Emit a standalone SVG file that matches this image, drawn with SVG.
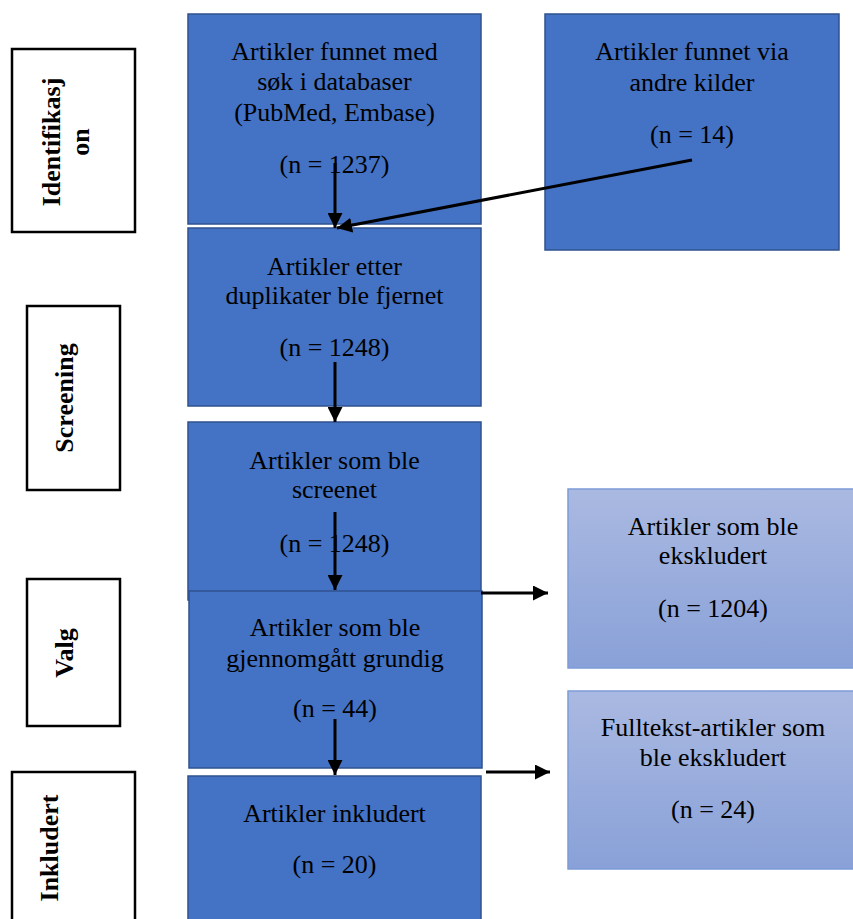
<svg xmlns="http://www.w3.org/2000/svg" width="853" height="919" viewBox="0 0 853 919">
<style>
.main{fill:#4472C4;stroke:#2F528F;stroke-width:1.5}
.excl{fill:url(#g);stroke:#7E9CD8;stroke-width:1.5}
.lab{fill:#fff;stroke:#000;stroke-width:2.5}
.t{font-family:"Liberation Serif","Times New Roman",serif;font-size:26px;fill:#000;text-anchor:middle}
.b{font-weight:bold}
.c{stroke:#000;stroke-width:3;fill:none;marker-end:url(#ah)}
</style>
<defs>
<linearGradient id="g" x1="0" y1="0" x2="0" y2="1">
<stop offset="0" stop-color="#AAB9E1"/>
<stop offset="1" stop-color="#89A1D8"/>
</linearGradient>
<marker id="ah" viewBox="0 0 10 10" refX="10" refY="5" markerWidth="5" markerHeight="5" orient="auto">
<path d="M0,0 L10,5 L0,10 Z" fill="#000"/>
</marker>
</defs>

<g id="label-identifikasjon">
<rect class="lab" x="12" y="49" width="123" height="183"/>
<text class="t b" transform="translate(0,142) rotate(-90)"><tspan x="0" y="60">Identifikasj</tspan><tspan x="0" y="89">on</tspan></text>
</g>
<g id="label-screening">
<rect class="lab" x="27" y="306" width="93" height="184"/>
<text class="t b" transform="translate(0,398) rotate(-90)" x="0" y="73">Screening</text>
</g>
<g id="label-valg">
<rect class="lab" x="27" y="579" width="93" height="147"/>
<text class="t b" transform="translate(0,653) rotate(-90)" x="0" y="73">Valg</text>
</g>
<g id="label-inkludert">
<rect class="lab" x="12" y="772" width="123" height="160"/>
<text class="t b" transform="translate(0,848) rotate(-90)" x="0" y="58">Inkludert</text>
</g>

<g id="box-database">
<rect class="main" x="188" y="14" width="293" height="210"/>
<text class="t"><tspan x="334.5" y="60">Artikler funnet med</tspan><tspan x="334.5" y="90">søk i databaser</tspan><tspan x="334.5" y="121">(PubMed, Embase)</tspan><tspan x="334.5" y="173">(n = 1237)</tspan></text>
</g>
<g id="box-other">
<rect class="main" x="545" y="14" width="294" height="236"/>
<text class="t"><tspan x="692" y="60">Artikler funnet via</tspan><tspan x="692" y="91">andre kilder</tspan><tspan x="692" y="143">(n = 14)</tspan></text>
</g>
<g id="box-duplicates">
<rect class="main" x="188" y="228" width="293" height="178"/>
<text class="t"><tspan x="334.5" y="275">Artikler etter</tspan><tspan x="334.5" y="304">duplikater ble fjernet</tspan><tspan x="334.5" y="356">(n = 1248)</tspan></text>
</g>
<g id="box-screened">
<rect class="main" x="188" y="422" width="293" height="178"/>
<text class="t"><tspan x="334.5" y="469">Artikler som ble</tspan><tspan x="334.5" y="498">screenet</tspan><tspan x="334.5" y="552">(n = 1248)</tspan></text>
</g>
<g id="box-reviewed">
<rect class="main" x="189" y="591" width="293" height="177"/>
<text class="t"><tspan x="335" y="636">Artikler som ble</tspan><tspan x="335" y="667">gjennomgått grundig</tspan><tspan x="335" y="717">(n = 44)</tspan></text>
</g>
<g id="box-included">
<rect class="main" x="188" y="776" width="293" height="160"/>
<text class="t"><tspan x="334.5" y="822">Artikler inkludert</tspan><tspan x="334.5" y="873">(n = 20)</tspan></text>
</g>
<g id="box-excluded">
<rect class="excl" x="568" y="489" width="295" height="179"/>
<text class="t"><tspan x="713" y="535">Artikler som ble</tspan><tspan x="713" y="564">ekskludert</tspan><tspan x="713" y="617">(n = 1204)</tspan></text>
</g>
<g id="box-fulltext-excluded">
<rect class="excl" x="568" y="691" width="295" height="178"/>
<text class="t"><tspan x="713" y="736">Fulltekst-artikler som</tspan><tspan x="713" y="766">ble ekskludert</tspan><tspan x="713" y="818">(n = 24)</tspan></text>
</g>

<g id="connectors">
<line class="c" x1="335" y1="163" x2="335" y2="228"/>
<line class="c" x1="692" y1="160" x2="337" y2="228"/>
<line class="c" x1="335" y1="362" x2="335" y2="422"/>
<line class="c" x1="335" y1="512" x2="335" y2="590"/>
<line class="c" x1="335" y1="719" x2="335" y2="775"/>
<line class="c" x1="481" y1="593" x2="548" y2="593"/>
<line class="c" x1="486" y1="772" x2="550" y2="772"/>
</g>
</svg>
